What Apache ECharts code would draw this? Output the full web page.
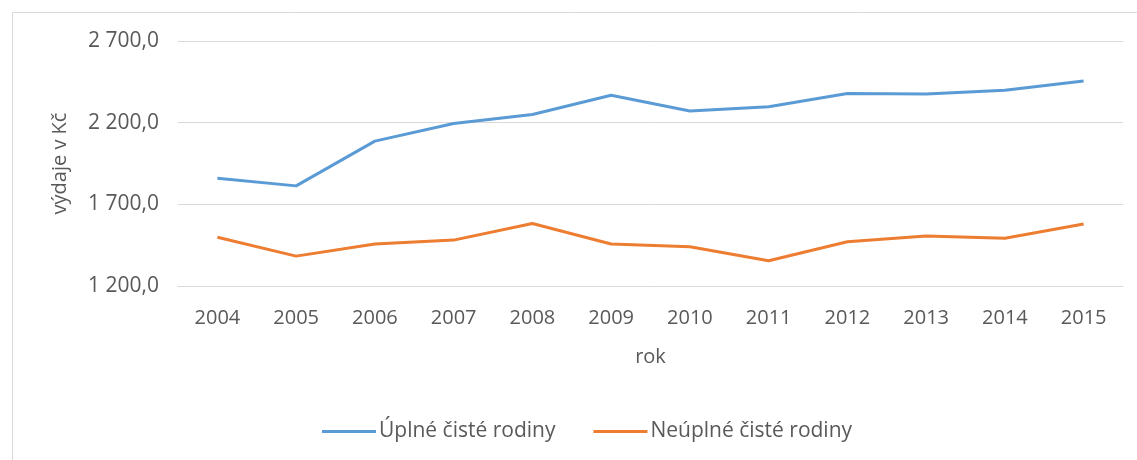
<!DOCTYPE html>
<html>
<head>
<meta charset="utf-8">
<script src="https://cdn.jsdelivr.net/npm/echarts@6/dist/echarts.min.js"></script>
<style>
html,body{margin:0;padding:0;background:#fff;}
#chart{width:1137px;height:460px;}
</style>
</head>
<body>
<div id="chart"></div>
<script>
const years = ['2004','2005','2006','2007','2008','2009','2010','2011','2012','2013','2014','2015'];
const uplne = [1860, 1813, 2087, 2195, 2250, 2368, 2272, 2298, 2378, 2376, 2399, 2455];
const neuplne = [1498, 1383, 1457, 1481, 1583, 1457, 1440, 1355, 1471, 1506, 1492, 1579];
const seriesNames = ['Úplné čisté rodiny', 'Neúplné čisté rodiny'];
const yTicks = {min: 1200, max: 2700, interval: 500};

const FONT = '"Open Sans", sans-serif';
const TXT = '#595959';

const chart = echarts.init(document.getElementById('chart'), null, {renderer: 'canvas'});
chart.setOption({
  animation: false,
  backgroundColor: '#fff',
  graphic: [{
    type: 'rect', left: 10, top: 10, silent: true,
    shape: {width: 1140, height: 460},
    style: {fill: 'none', stroke: '#d9d9d9', lineWidth: 1}
  }],
  grid: {left: 178, right: 14, top: 41, bottom: 174, containLabel: false},
  legend: {
    left: 317, top: 416,
    itemWidth: 54, itemHeight: 3, itemGap: 38,
    icon: 'rect',
    textStyle: {fontFamily: FONT, fontSize: 21, color: TXT, padding: [0, 0, 0, -2]},
    data: seriesNames
  },
  xAxis: {
    type: 'category',
    data: years,
    boundaryGap: true,
    name: 'rok',
    nameLocation: 'middle',
    nameGap: 61,
    nameTextStyle: {fontFamily: FONT, fontSize: 20, color: TXT},
    axisLine: {show: true, lineStyle: {color: '#d9d9d9', width: 1}},
    axisTick: {show: false},
    axisLabel: {fontFamily: FONT, fontSize: 20, color: TXT, margin: 22}
  },
  yAxis: {
    type: 'value',
    min: yTicks.min, max: yTicks.max, interval: yTicks.interval,
    name: 'výdaje v Kč',
    nameLocation: 'middle',
    nameGap: 108,
    nameRotate: 90,
    nameTextStyle: {fontFamily: FONT, fontSize: 20, color: TXT},
    axisLine: {show: false},
    axisTick: {show: false},
    splitLine: {lineStyle: {color: '#d9d9d9', width: 1}},
    axisLabel: {
      fontFamily: FONT, fontSize: 21, color: TXT, margin: 19,
      formatter: function (v) {
        const s = Math.round(v).toString();
        const t = s.length > 3 ? s.slice(0, s.length - 3) + ' ' + s.slice(-3) : s;
        return t + ',0';
      }
    }
  },
  series: [
    {
      name: seriesNames[0], type: 'line', data: uplne,
      symbol: 'none', smooth: false,
      lineStyle: {color: '#5b9bd5', width: 3},
      itemStyle: {color: '#5b9bd5'}
    },
    {
      name: seriesNames[1], type: 'line', data: neuplne,
      symbol: 'none', smooth: false,
      lineStyle: {color: '#ed7d31', width: 3},
      itemStyle: {color: '#ed7d31'}
    }
  ]
});
</script>
</body>
</html>
